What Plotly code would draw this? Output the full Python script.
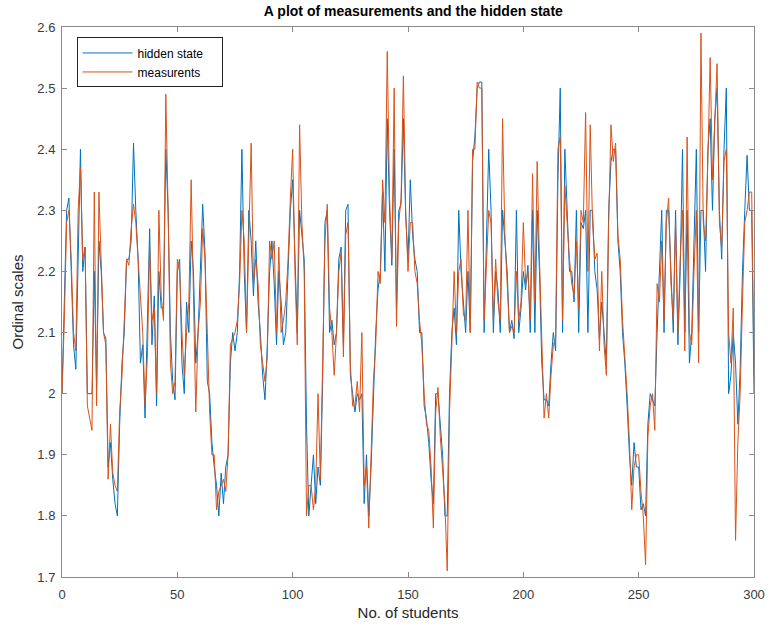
import plotly.graph_objects as go

students = list(range(0, 301))

hidden_state = [
2.00,2.15,2.30,2.32,2.20,2.08,2.04,2.25,2.40,2.20,
2.24,2.00,2.00,2.00,2.20,2.01,2.25,2.20,2.10,2.09,
1.88,1.92,1.86,1.82,1.80,1.95,2.05,2.10,2.22,2.22,
2.25,2.41,2.30,2.22,2.05,2.08,1.96,2.10,2.27,2.08,
2.16,1.98,2.20,2.14,2.14,2.40,2.30,2.10,2.02,1.99,
2.20,2.22,2.05,2.00,2.15,2.10,2.25,2.20,2.05,2.10,
2.22,2.31,2.23,2.02,2.00,1.92,1.88,1.85,1.80,1.87,
1.82,1.88,1.90,2.05,2.10,2.07,2.10,2.20,2.40,2.20,
2.10,2.30,2.25,2.16,2.25,2.15,2.10,2.03,1.99,2.08,
2.20,2.25,2.18,2.08,2.20,2.15,2.08,2.10,2.20,2.30,
2.35,2.22,2.10,2.30,2.26,2.22,1.95,1.80,1.85,1.90,
1.82,1.88,1.85,2.02,2.28,2.30,2.10,2.12,2.08,2.10,
2.22,2.24,2.08,2.30,2.31,2.03,2.00,1.97,2.00,1.99,
2.00,1.82,1.90,1.80,1.88,2.00,2.10,2.17,2.20,2.33,
2.20,2.45,2.30,2.21,2.40,2.14,2.30,2.31,2.45,2.29,
2.22,2.35,2.26,2.22,2.20,2.10,2.10,1.98,1.96,1.92,
1.86,1.82,2.00,2.00,1.95,1.90,1.80,1.80,2.00,2.10,
2.14,2.08,2.30,2.20,2.15,2.10,2.20,2.10,2.38,2.42,
2.50,2.51,2.51,2.10,2.25,2.40,2.30,2.10,2.20,2.17,
2.10,2.30,2.25,2.20,2.10,2.12,2.09,2.30,2.10,2.14,
2.20,2.17,2.21,2.10,2.30,2.10,2.30,2.20,2.05,1.99,
1.99,1.98,2.05,2.10,2.07,2.35,2.50,2.10,2.40,2.30,
2.20,2.20,2.15,2.30,2.10,2.28,2.27,2.30,2.10,2.30,
2.30,2.20,2.17,2.09,2.15,2.10,2.05,2.30,2.38,2.40,
2.40,2.25,2.20,2.10,2.05,1.98,1.90,1.85,1.92,1.88,
1.88,1.81,1.82,1.80,1.95,2.00,1.99,1.98,2.10,2.20,
2.30,2.10,2.30,2.30,2.20,2.10,2.30,2.08,2.20,2.40,
2.10,2.30,2.05,2.10,2.25,2.40,2.10,2.30,2.30,2.20,
2.40,2.45,2.30,2.45,2.50,2.30,2.22,2.40,2.50,2.00,
2.03,2.10,2.05,1.95,2.04,2.20,2.30,2.39,2.30,2.30,
2.00]

measurements = [
2.00,2.12,2.28,2.30,2.22,2.10,2.07,2.30,2.37,2.22,
2.24,1.98,1.96,1.94,2.33,1.98,2.33,2.20,2.10,2.08,
1.86,1.95,1.87,1.85,1.84,1.97,2.03,2.12,2.22,2.21,
2.27,2.31,2.28,2.22,2.15,2.10,1.98,2.06,2.24,2.12,
2.14,2.00,2.30,2.16,2.12,2.49,2.30,2.05,2.00,2.02,
2.22,2.20,2.10,2.03,2.10,2.15,2.35,2.18,1.97,2.10,
2.15,2.27,2.22,2.10,1.97,1.90,1.90,1.81,1.84,1.85,
1.86,1.84,1.90,2.08,2.09,2.10,2.12,2.18,2.30,2.25,
2.10,2.26,2.41,2.18,2.22,2.18,2.08,2.05,2.02,2.06,
2.25,2.22,2.25,2.10,2.24,2.10,2.12,2.15,2.22,2.32,
2.40,2.20,2.08,2.44,2.28,2.20,1.80,1.85,1.85,1.81,
1.85,2.00,1.86,2.05,2.25,2.31,2.14,2.10,2.03,2.10,
2.20,2.23,2.06,2.26,2.28,2.05,1.98,1.98,2.02,1.97,
2.10,1.85,1.88,1.78,1.90,2.02,2.08,2.20,2.18,2.35,
2.28,2.56,2.32,2.22,2.50,2.11,2.28,2.32,2.52,2.30,
2.20,2.28,2.28,2.20,2.18,2.12,2.08,2.00,1.95,1.94,
1.88,1.78,1.97,2.01,1.93,1.88,1.82,1.71,1.97,2.08,
2.20,2.10,2.20,2.22,2.13,2.12,2.30,2.10,2.40,2.40,
2.51,2.50,2.50,2.12,2.22,2.30,2.28,2.12,2.22,2.15,
2.12,2.45,2.26,2.18,2.10,2.11,2.10,2.20,2.12,2.15,
2.28,2.18,2.20,2.12,2.36,2.15,2.38,2.22,2.08,1.96,
2.00,1.96,2.03,2.08,2.09,2.40,2.42,2.12,2.34,2.28,
2.22,2.18,2.16,2.25,2.14,2.30,2.28,2.46,2.20,2.44,
2.28,2.22,2.23,2.07,2.20,2.08,2.03,2.28,2.44,2.38,
2.41,2.26,2.22,2.12,2.06,2.00,1.92,1.81,1.88,1.90,
1.90,1.84,1.80,1.72,1.93,1.98,2.00,1.94,2.18,2.15,
2.25,2.12,2.28,2.32,2.18,2.12,2.28,2.10,2.22,2.30,
2.07,2.42,2.10,2.08,2.20,2.30,2.05,2.59,2.28,2.25,
2.38,2.55,2.35,2.44,2.54,2.28,2.24,2.38,2.40,2.10,
2.05,2.14,1.76,1.92,2.00,2.15,2.28,2.30,2.33,2.33,
2.05]

x_ticks = [0, 50, 100, 150, 200, 250, 300]
y_ticks = [1.7, 1.8, 1.9, 2.0, 2.1, 2.2, 2.3, 2.4, 2.5, 2.6]
y_tick_labels = ["1.7", "1.8", "1.9", "2", "2.1", "2.2", "2.3", "2.4", "2.5", "2.6"]

FONT = "Liberation Sans, Arial, sans-serif"

fig = go.Figure()
fig.add_trace(go.Scatter(x=students, y=hidden_state, mode="lines", name="hidden state    ",
                         line=dict(color="#0072BD", width=1)))
fig.add_trace(go.Scatter(x=students, y=measurements, mode="lines", name="measurents",
                         line=dict(color="#D95319", width=1)))

axis_common = dict(showline=True, linecolor="#8a8a8a", linewidth=1, mirror="ticks",
                   ticks="inside", ticklen=5, tickcolor="#8a8a8a", showgrid=False,
                   zeroline=False, tickfont=dict(family=FONT, size=13, color="#3a3a3a"))

fig.update_layout(
    width=777, height=630,
    margin=dict(l=62, r=12, t=27, b=53),
    paper_bgcolor="white", plot_bgcolor="white",
    title=dict(text="<b>A plot of measurements and the hidden state</b>", x=0.532, xanchor="center",
               y=0.982, yanchor="middle",
               font=dict(family=FONT, size=14, color="black")),
    xaxis=dict(range=[0, 300], tickvals=x_ticks, ticklabelstandoff=5,
               title=dict(text="No. of students", standoff=6,
                          font=dict(family=FONT, size=15, color="#262626")), **axis_common),
    yaxis=dict(range=[1.7, 2.6], tickvals=y_ticks, ticktext=y_tick_labels, ticklabelstandoff=3,
               title=dict(text="Ordinal scales", standoff=10,
                          font=dict(family=FONT, size=15, color="#262626")), **axis_common),
    legend=dict(x=0.021, y=0.981, xanchor="left", yanchor="top", bgcolor="white",
                bordercolor="#262626", borderwidth=1, tracegroupgap=0, itemwidth=50,
                font=dict(family=FONT, size=12, color="black")),
    showlegend=True,
)

fig.write_html("out.html")
